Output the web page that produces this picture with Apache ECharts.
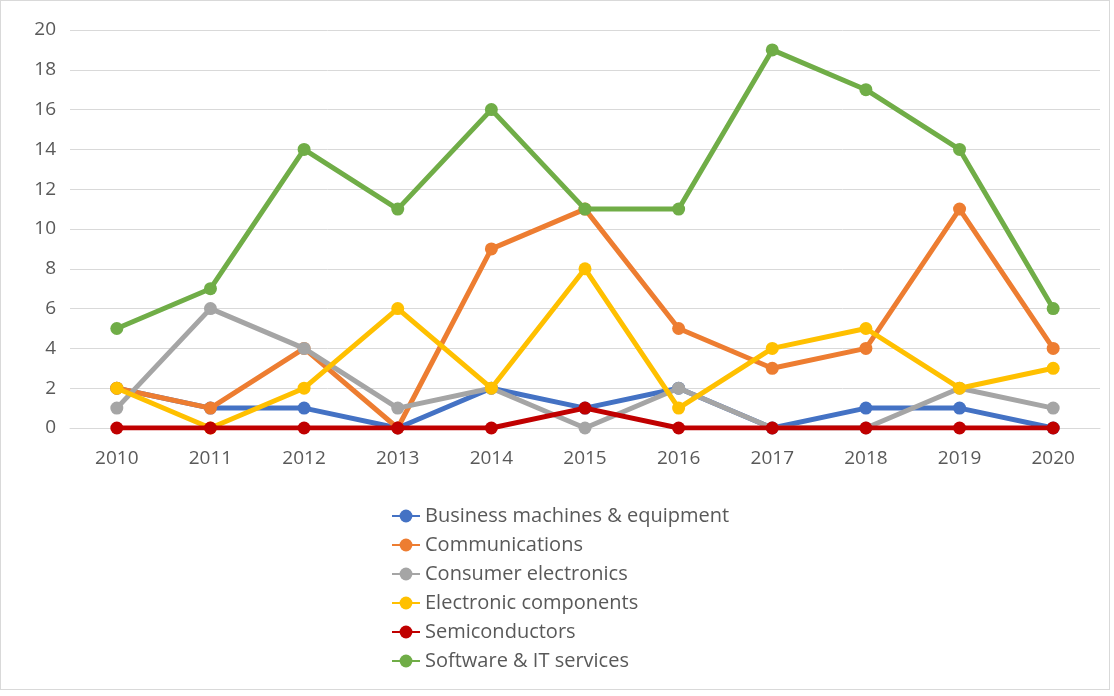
<!DOCTYPE html>
<html>
<head>
<meta charset="utf-8">
<script src="https://cdn.jsdelivr.net/npm/echarts@6/dist/echarts.min.js"></script>
<style>
html,body{margin:0;padding:0;background:#fff;}
#wrap{position:absolute;left:0;top:0;width:1110px;height:690px;border:1px solid #d9d9d9;box-sizing:border-box;}
#chart{position:absolute;left:0;top:0;width:1114px;height:696px;}
</style>
</head>
<body>
<div id="wrap"></div>
<div id="chart"></div>
<script>
const years = ['2010','2011','2012','2013','2014','2015','2016','2017','2018','2019','2020'];
const businessMachines = [2,1,1,0,2,1,2,0,1,1,0];
const communications = [2,1,4,0,9,11,5,3,4,11,4];
const consumerElectronics = [1,6,4,1,2,0,2,0,0,2,1];
const electronicComponents = [2,0,2,6,2,8,1,4,5,2,3];
const semiconductors = [0,0,0,0,0,1,0,0,0,0,0];
const softwareIT = [5,7,14,11,16,11,11,19,17,14,6];
const seriesNames = ['Business machines & equipment','Communications','Consumer electronics','Electronic components','Semiconductors','Software & IT services'];
const seriesData = [businessMachines, communications, consumerElectronics, electronicComponents, semiconductors, softwareIT];
const colors = ['#4472C4','#ED7D31','#A5A5A5','#FFC000','#C00000','#70AD47'];

const chart = echarts.init(document.getElementById('chart'), null, {renderer:'canvas'});
chart.setOption({
  animation:false,
  color: colors,
  textStyle:{fontFamily:'Open Sans'},
  grid:{left:70, right:14, top:30, bottom:268, containLabel:false},
  xAxis:{
    type:'category', data: years, boundaryGap:true,
    axisLine:{show:true, lineStyle:{color:'#d9d9d9', width:1}},
    axisTick:{show:false},
    axisLabel:{color:'#595959', fontSize:19, margin:21, fontFamily:'Open Sans'}
  },
  yAxis:{
    type:'value', min:0, max:20, interval:2,
    axisLine:{show:false}, axisTick:{show:false},
    axisLabel:{color:'#595959', fontSize:19, margin:14, fontFamily:'Open Sans'},
    splitLine:{lineStyle:{color:'#d9d9d9', width:1}}
  },
  legend:{
    orient:'vertical', left:386, top:501,
    itemWidth:28, itemHeight:16, itemGap:9,
    textStyle:{color:'#595959', fontSize:20, fontFamily:'Open Sans'},
    data: seriesNames
  },
  series: seriesNames.map((n,i)=>({
    name:n, type:'line', data: seriesData[i],
    symbol:'circle', symbolSize:13,
    lineStyle:{width:5, color: colors[i]},
    itemStyle:{color: colors[i]},
    z: 2+i
  }))
});
</script>
</body>
</html>
